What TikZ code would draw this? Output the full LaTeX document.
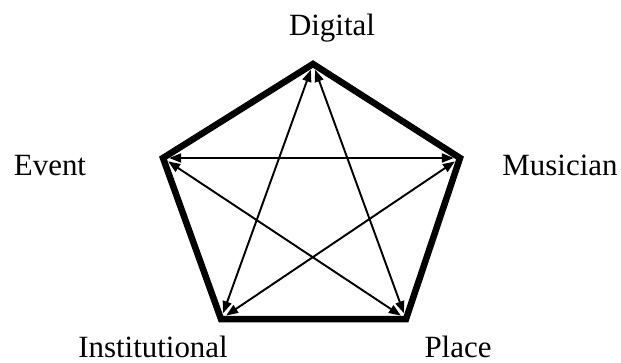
\documentclass[tikz,border=0pt]{standalone}
\usepackage{fontspec}
\setmainfont{Liberation Serif}
\usetikzlibrary{arrows.meta,positioning}

\begin{document}
\begin{tikzpicture}[
    x=0.02cm,y=-0.02cm,
    >={Triangle[length=0.24cm,width=0.18cm]},
    % --- pentagon outline --------------------------------------------
    rim/.style={draw=black,line width=0.13cm,line join=miter},
    % --- links between corners ---------------------------------------
    link/.style={draw=black,line width=1.1pt,<->,shorten <=3.5pt,shorten >=3.5pt},
    % --- corner labels -----------------------------------------------
    lab/.style={font=\fontsize{17.6}{20}\selectfont,inner sep=0pt,anchor=base},
  ]

\useasboundingbox (0,0) rectangle (621,362);

% =====================================================================
%  Corners (pixel grid, y downwards)
% =====================================================================
\coordinate (dig) at (313,64);
\coordinate (mus) at (460,158);
\coordinate (plc) at (406,319);
\coordinate (ins) at (221,319);
\coordinate (evt) at (163,158);

% ---- thick outline --------------------------------------------------
\draw[rim] (dig) -- (mus) -- (plc) -- (ins) -- (evt) -- cycle;

% ---- star of links --------------------------------------------------
\draw[link] (dig) -- (ins);
\draw[link] (dig) -- (plc);
\draw[link] (evt) -- (mus);
\draw[link] (evt) -- (plc);
\draw[link] (mus) -- (ins);

% =====================================================================
%  Labels
% =====================================================================
\node[lab] (ldig) at (332,35)  {Digital};
\node[lab] (levt) at (50,175)  {Event};
\node[lab] (lmus) at (560,175) {Musician};
\node[lab] (lins) at (153,357) {Institutional};
\node[lab] (lplc) at (458,357) {Place};

\end{tikzpicture}
\end{document}
